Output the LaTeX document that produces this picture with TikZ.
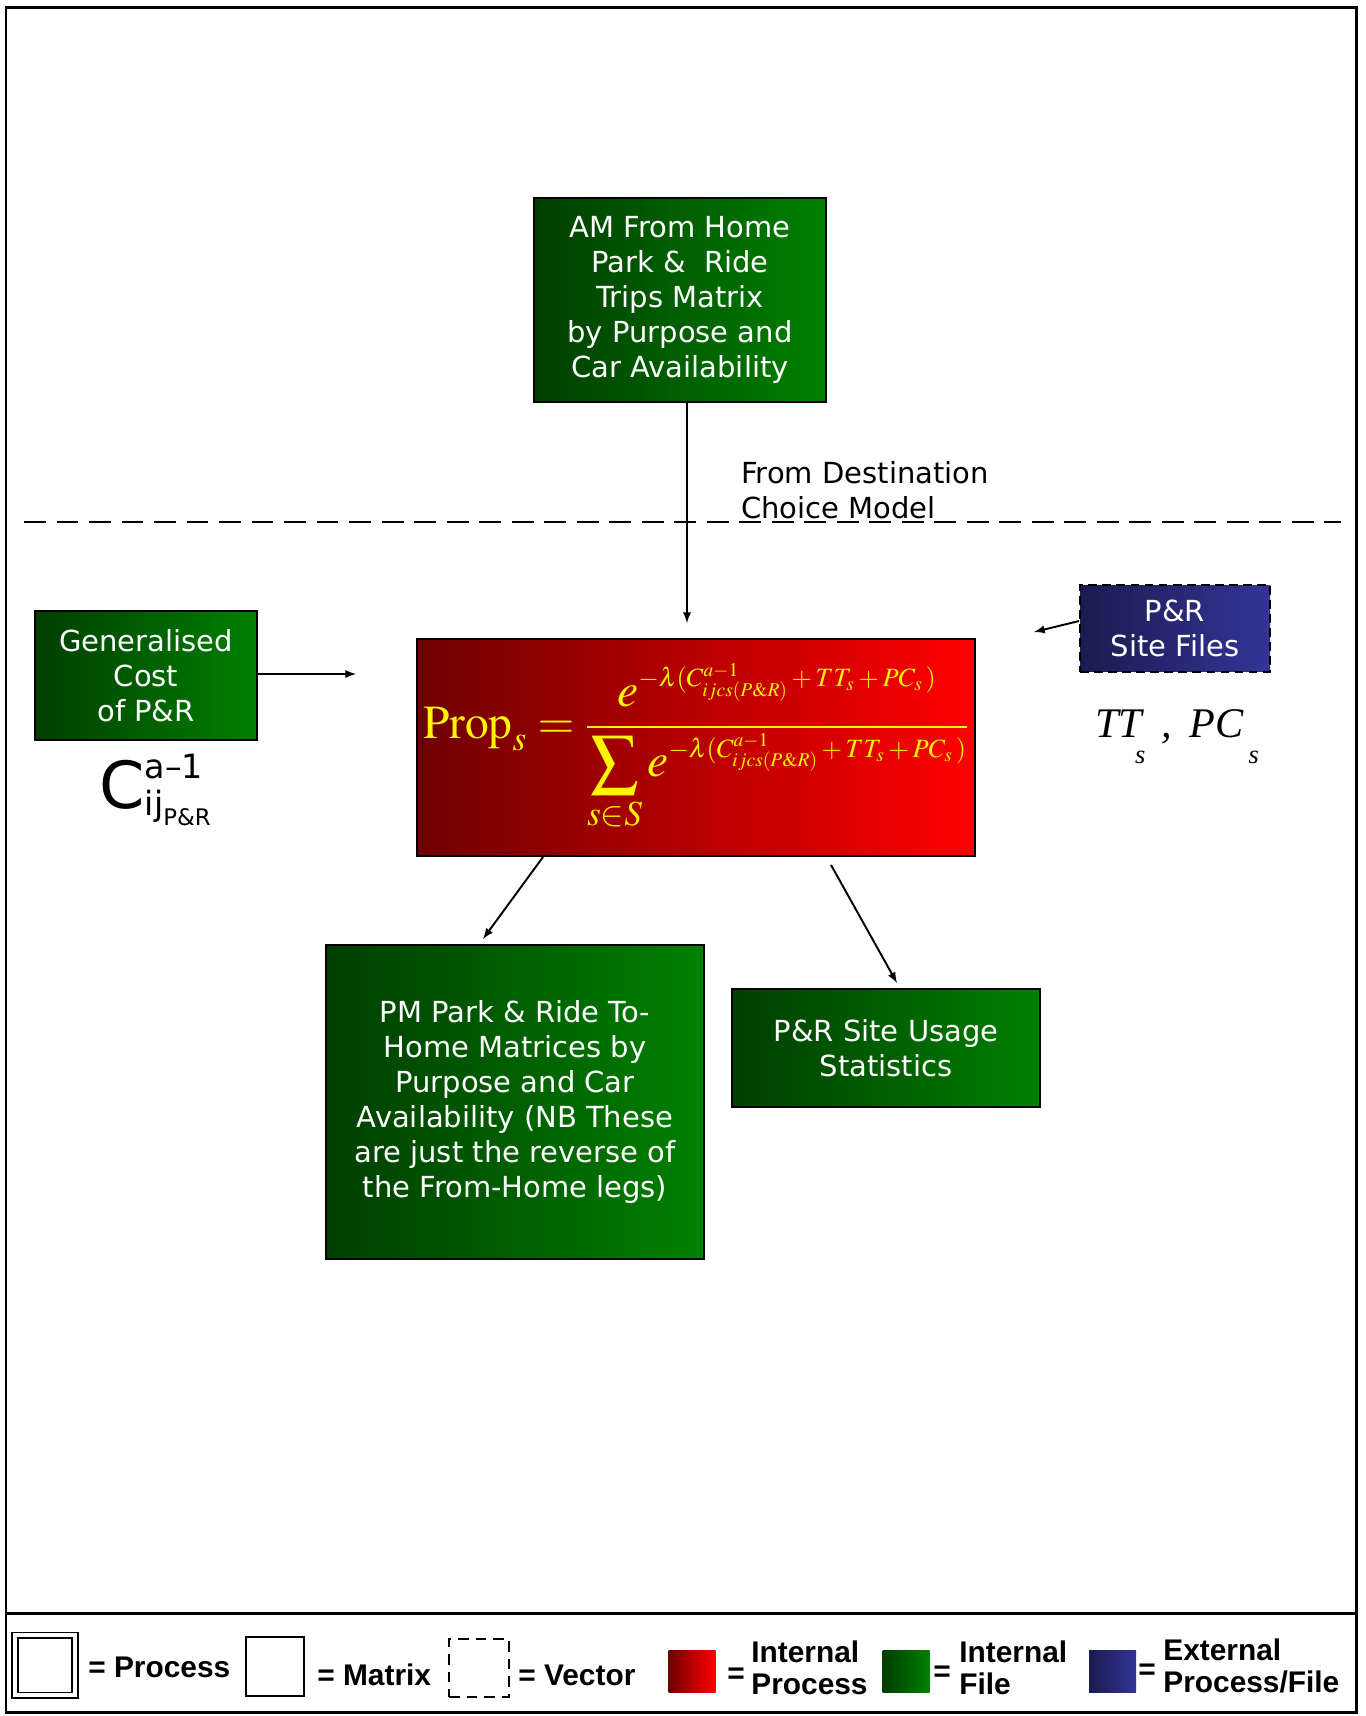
\documentclass[tikz,border=0pt]{standalone}
\usepackage{mathptmx}
\usepackage[no-math]{fontspec}
\setmainfont{DejaVu Sans}
\newfontfamily\legendfont{Liberation Sans}
\newfontfamily\timesfont{Liberation Serif}
\usetikzlibrary{positioning}

\definecolor{procdark}{RGB}{110,0,0}
\definecolor{proclight}{RGB}{255,0,0}
\definecolor{filedark}{RGB}{0,62,0}
\definecolor{filelight}{RGB}{0,128,0}
\definecolor{extdark}{RGB}{27,27,80}
\definecolor{extlight}{RGB}{52,52,152}
\definecolor{formulacol}{RGB}{255,245,0}

% exponent of the logit term
\newcommand{\logitexp}{\mbox{\fontsize{15}{15}\selectfont$-\lambda(C^{a-1}_{ijcs(P\&R)}+TT_s+PC_s\,)$}}

\tikzset{
  box/.style={draw=black, line width=1.1pt, inner sep=0pt, align=center,
    font=\fontsize{16.5}{20}\selectfont},
  intfile/.style={box, left color=filedark, right color=filelight, text=white},
  intproc/.style={box, left color=procdark, right color=proclight},
  extfile/.style={box, left color=extdark, right color=extlight, text=white,
    dash pattern=on 5pt off 3pt},
  arr/.style={-latex, line width=1.1pt},
  keytext/.style={anchor=west, inner sep=0pt, align=left,
    font=\legendfont\bfseries\fontsize{17}{18}\selectfont},
  swatch/.style={inner sep=0pt, minimum width=0.94cm, minimum height=0.84cm}
}

\begin{document}
\begin{tikzpicture}[x=0.02cm, y=-0.02cm]
  \useasboundingbox (0,0) rectangle (1365,1716);
  % frame and key strip
  \draw[line width=1.7pt] (6,8) rectangle (1356,1712);
  \draw[line width=1.7pt] (6,1613) -- (1356,1613);

  % destination choice side
  \node[intfile, minimum width=5.84cm, minimum height=4.08cm] (amtrips) at (680,300)
    {AM From Home\\Park \&~ Ride\\Trips Matrix\\by Purpose and\\Car Availability};
  \node[anchor=west, align=left, inner sep=0pt, font=\fontsize{16.5}{20}\selectfont]
    (fromdcm) at (741,490) {From Destination\\Choice Model};
  \draw[line width=1.1pt, dash pattern=on 12.5pt off 6pt] (24,522) -- (1341,522);

  % site choice
  \node[intproc, minimum width=11.16cm, minimum height=4.34cm] (props) at (696,747.5)
    {\color{formulacol}\fontsize{27}{32}\selectfont
     $\displaystyle \mathrm{Prop}_s=\frac{e^{\logitexp}}
     {\displaystyle\sum_{s\in S}e^{\logitexp}}$};
  \coordinate (propstop) at (687,623);
  \draw[arr] (amtrips.south -| propstop) -- (propstop);

  \node[intfile, minimum width=4.44cm, minimum height=2.58cm] (gencost) at (146,675.5)
    {Generalised\\Cost\\of P\&R};
  \coordinate (gencostend) at (356,674);
  \draw[arr] (gencost.east |- gencostend) -- (gencostend);
  \node[anchor=base west, inner sep=0pt, font=\fontsize{37}{37}\selectfont] (cij) at (99,808)
    {C\rlap{\raisebox{17pt}{\fontsize{19}{19}\selectfont a–1}}\raisebox{-4pt}{\fontsize{19}{19}\selectfont
     ij\raisebox{-6pt}{\fontsize{13}{13}\selectfont P\&R}}};

  \node[extfile, minimum width=3.8cm, minimum height=1.74cm] (sitefiles) at (1175,628.5)
    {P\&R\\Site Files};
  \coordinate (sitefilesend) at (1034,632);
  \draw[arr] ([yshift=0.15cm]sitefiles.west) -- (sitefilesend);
  \node[anchor=base west, inner sep=0pt, font=\timesfont\itshape\fontsize{24}{24}\selectfont]
    (ttpc) at (1095,737)
    {TT\hspace{-4pt}\raisebox{-15pt}{\fontsize{15}{15}\selectfont s}\hspace{9pt},\hspace{10pt}PC\hspace{3pt}\raisebox{-15pt}{\fontsize{15}{15}\selectfont s}};

  % outputs
  \node[intfile, minimum width=7.56cm, minimum height=6.28cm] (pmtrips) at (515,1102)
    {PM Park \& Ride To-\\Home Matrices by\\Purpose and Car\\Availability (NB These\\are just the reverse of\\the From-Home legs)};
  \coordinate (pmtripsend) at (483,939);
  \draw[arr] ([xshift=-3.06cm]props.south) -- (pmtripsend);

  \node[intfile, minimum width=6.16cm, minimum height=2.36cm] (usage) at (886,1048)
    {P\&R Site Usage\\Statistics};
  \coordinate (usageend) at (897,983);
  \draw[arr] ([xshift=2.7cm, yshift=-0.16cm]props.south) -- (usageend);

  % key
  \node[draw, double, line width=1pt, double distance=2pt, minimum size=1.2cm] (keyproc) at (45,1665) {};
  \node[keytext] (keyproctext) at (88,1667) {= Process};
  \node[draw, line width=1.3pt, minimum width=1.16cm, minimum height=1.18cm] (keymat) at (275,1666.5) {};
  \node[keytext] (keymattext) at (317,1675) {= Matrix};
  \node[draw, line width=1.3pt, dash pattern=on 6pt off 4pt, minimum width=1.2cm, minimum height=1.16cm]
    (keyvec) at (479,1668) {};
  \node[keytext] (keyvectext) at (518,1675) {= Vector};
  \node[swatch, left color=procdark, right color=proclight] (keyintproc) at (692,1671) {};
  \node[keytext] (keyintproceq) at (727,1676) {=};
  \node[keytext] (keyintproctext) at (751,1668) {Internal\\Process};
  \node[swatch, left color=filedark, right color=filelight] (keyintfile) at (906,1671.5) {};
  \node[keytext] (keyintfileeq) at (933,1674) {=};
  \node[keytext] (keyintfiletext) at (959,1668) {Internal\\File};
  \node[swatch, left color=extdark, right color=extlight] (keyext) at (1112.5,1671) {};
  \node[keytext] (keyexteq) at (1138,1672) {=};
  \node[keytext] (keyexttext) at (1163,1666) {External\\Process/File};
\end{tikzpicture}
\end{document}
